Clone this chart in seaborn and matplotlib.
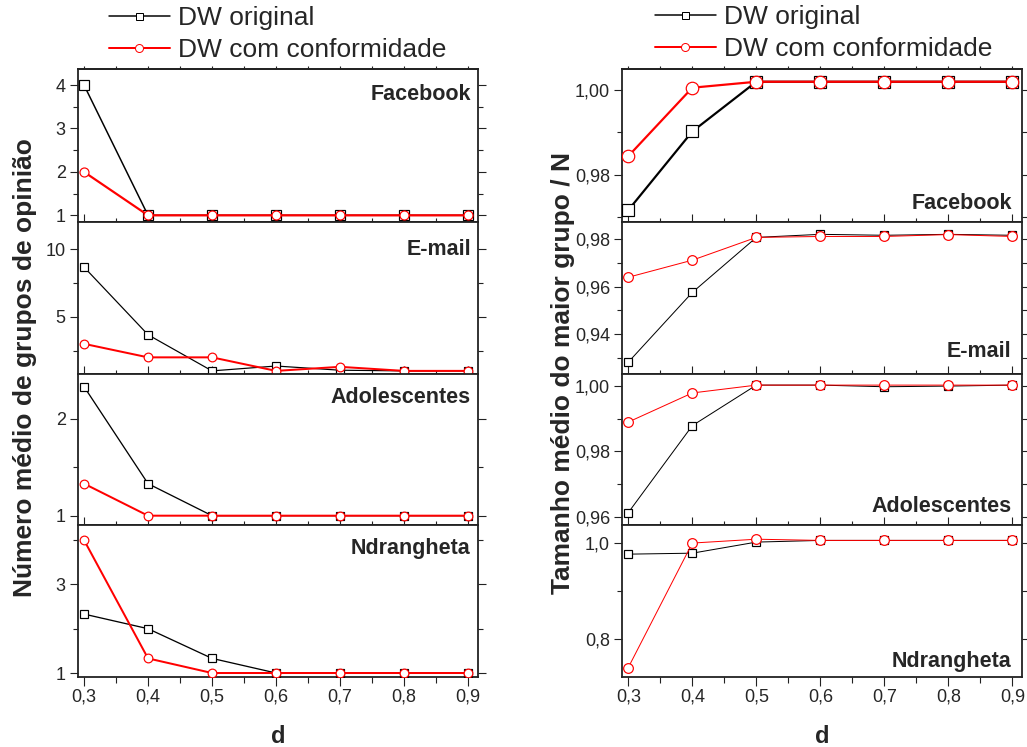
import matplotlib
matplotlib.use("Agg")
import matplotlib.pyplot as plt
from matplotlib.ticker import FixedLocator, FuncFormatter
from matplotlib.lines import Line2D
import seaborn as sns

# ---------------- data ----------------
d_values = [0.3, 0.4, 0.5, 0.6, 0.7, 0.8, 0.9]
d_minor = [0.35, 0.45, 0.55, 0.65, 0.75, 0.85]
networks = ["Facebook", "E-mail", "Adolescentes", "Ndrangheta"]
series_labels = ["DW original", "DW com conformidade"]

# left column: average number of opinion groups
groups_fb_orig = [4.0, 1.0, 1.0, 1.0, 1.0, 1.0, 1.0]
groups_fb_conf = [2.0, 1.0, 1.0, 1.0, 1.0, 1.0, 1.0]
groups_em_orig = [8.67, 3.67, 1.0, 1.36, 1.05, 1.0, 1.0]
groups_em_conf = [3.0, 2.0, 2.0, 1.0, 1.3, 1.0, 1.0]
groups_ad_orig = [2.33, 1.33, 1.0, 1.0, 1.0, 1.0, 1.0]
groups_ad_conf = [1.33, 1.0, 1.0, 1.0, 1.0, 1.0, 1.0]
groups_nd_orig = [2.33, 2.0, 1.33, 1.0, 1.0, 1.0, 1.0]
groups_nd_conf = [4.0, 1.33, 1.0, 1.0, 1.0, 1.0, 1.0]

# right column: average size of the largest group / N
size_fb_orig = [0.9717, 0.9902, 1.0019, 1.0019, 1.0019, 1.0019, 1.0019]
size_fb_conf = [0.9844, 1.0005, 1.0019, 1.0019, 1.0019, 1.0019, 1.0019]
size_em_orig = [0.9282, 0.9576, 0.9808, 0.9821, 0.9817, 0.9821, 0.9817]
size_em_conf = [0.9640, 0.9712, 0.9808, 0.9812, 0.9812, 0.9820, 0.9812]
size_ad_orig = [0.9613, 0.9879, 1.0003, 1.0003, 0.9998, 1.0000, 1.0003]
size_ad_conf = [0.9890, 0.9979, 1.0003, 1.0003, 1.0003, 1.0003, 1.0003]
size_nd_orig = [0.977, 0.979, 1.002, 1.0055, 1.0055, 1.0055, 1.0055]
size_nd_conf = [0.7417, 1.000, 1.008, 1.0055, 1.0055, 1.0055, 1.0055]

# tick values per panel (major, minor) and decimals
left_major = [[1, 2, 3, 4], [5, 10], [1, 2], [1, 3]]
left_minor = [[1.5, 2.5, 3.5], [2.5, 7.5], [1.5], [2, 4]]
left_ylim = [(0.846, 4.37), (0.77, 12.0), (0.904, 2.46), (0.91, 4.34)]
right_major = [[0.98, 1.00], [0.94, 0.96, 0.98], [0.96, 0.98, 1.00], [0.8, 1.0]]
right_minor = [[0.97, 0.99], [0.93, 0.95, 0.97], [0.97, 0.99], [0.9]]
right_decimals = [2, 2, 2, 1]
right_ylim = [(0.9689, 1.0049), (0.9232, 0.9873), (0.9575, 1.0037), (0.722, 1.0375)]

# ---------------- style ----------------
sns.set_style("ticks")
plt.rcParams["font.family"] = ["Liberation Sans", "DejaVu Sans"]
plt.rcParams["axes.linewidth"] = 1.3

PX = 0.72  # points per pixel at dpi 100
BLACK = "#000000"
RED = "#ff0000"
SPINE = "#222222"

fig = plt.figure(figsize=(10.27, 7.47), dpi=100)
H = 747.0
W = 1027.0
bounds_px = [69, 222, 374, 525, 677]
left_x = (78, 478)
right_x = (622.3, 1022.3)

left_sets = [(groups_fb_orig, groups_fb_conf), (groups_em_orig, groups_em_conf),
             (groups_ad_orig, groups_ad_conf), (groups_nd_orig, groups_nd_conf)]
right_sets = [(size_fb_orig, size_fb_conf), (size_em_orig, size_em_conf),
              (size_ad_orig, size_ad_conf), (size_nd_orig, size_nd_conf)]

# styles (line widths px, marker sizes px)
left_style = [(1.5, 2.2, 10.7, 9.0), (1.2, 2.0, 7.5, 8.7), (1.3, 2.0, 8.3, 8.7), (1.3, 2.0, 8.3, 8.7)]
right_style = [(2.2, 2.2, 11.5, 12.5), (1.0, 1.0, 7.7, 9.7), (1.0, 1.0, 8.0, 9.7), (1.0, 1.0, 8.0, 9.7)]
left_title_pos = [0.80, 0.785, 0.805, 0.81]
right_title_pos = [0.083, 0.114, 0.086, 0.066]


def draw_panel(ax, orig, conf, style):
    lw_o, lw_c, ms_s, ms_c = style
    sns.lineplot(x=d_values, y=orig, ax=ax, color=BLACK, linewidth=lw_o * PX,
                 marker="s", markersize=ms_s * PX, markerfacecolor="white",
                 markeredgecolor=BLACK, markeredgewidth=1.2 * PX, legend=False, zorder=3)
    sns.lineplot(x=d_values, y=conf, ax=ax, color=RED, linewidth=lw_c * PX,
                 marker="o", markersize=ms_c * PX, markerfacecolor="white",
                 markeredgecolor=RED, markeredgewidth=1.2 * PX, legend=False, zorder=4)


def style_axes(ax, i, major, minor, ylim, fmt):
    ax.set_xlim(0.2906, 0.9156)
    ax.set_ylim(*ylim)
    ax.xaxis.set_major_locator(FixedLocator(d_values))
    ax.xaxis.set_minor_locator(FixedLocator(d_minor))
    ax.yaxis.set_major_locator(FixedLocator(major))
    ax.yaxis.set_minor_locator(FixedLocator(minor))
    ax.yaxis.set_major_formatter(FuncFormatter(fmt))
    ax.xaxis.set_major_formatter(FuncFormatter(lambda v, p: f"{v:.1f}".replace(".", ",")))
    for s in ax.spines.values():
        s.set_visible(True)
        s.set_linewidth(1.3)
        s.set_color(SPINE)
    last = (i == 3)
    ax.tick_params(axis="x", which="both", bottom=True, top=False,
                   labelbottom=last, labeltop=False,
                   direction="out" if last else "in", width=0.8, color=SPINE,
                   labelsize=13, pad=2)
    ax.tick_params(axis="x", which="major", length=6.5 if last else 6)
    ax.tick_params(axis="x", which="minor", length=4.3 if last else 3)
    ax.tick_params(axis="y", which="both", left=True, right=True, labelleft=True,
                   labelright=False, direction="out", width=0.8, color=SPINE,
                   labelsize=13, pad=3)
    ax.tick_params(axis="y", which="major", length=5.8)
    ax.tick_params(axis="y", which="minor", length=3.6)
    ax.set_xlabel("")
    ax.set_ylabel("")
    if i == 0:
        # short outward ticks on the top spine of the top panel
        sec = ax.secondary_xaxis("top")
        sec.xaxis.set_major_locator(FixedLocator(d_values + d_minor))
        sec.tick_params(axis="x", which="major", direction="out", length=2.5,
                        width=0.8, labeltop=False, color=SPINE)
        sec.spines["top"].set_linewidth(1.3)
        sec.spines["top"].set_color(SPINE)


for col, (xs, sets, styles) in enumerate([(left_x, left_sets, left_style),
                                           (right_x, right_sets, right_style)]):
    for i in range(4):
        top = bounds_px[i]
        bot = bounds_px[i + 1]
        ax = fig.add_axes([xs[0] / W, 1 - bot / H, (xs[1] - xs[0]) / W, (bot - top) / H])
        orig, conf = sets[i]
        draw_panel(ax, orig, conf, styles[i])
        if col == 0:
            fmt = lambda v, p: f"{v:g}"
            style_axes(ax, i, left_major[i], left_minor[i], left_ylim[i], fmt)
            ax.text(0.982, left_title_pos[i], networks[i], transform=ax.transAxes,
                    ha="right", va="baseline", fontsize=15.5, fontweight="bold")
        else:
            dec = right_decimals[i]
            fmt = (lambda dd: (lambda v, p: f"{v:.{dd}f}".replace(".", ",")))(dec)
            style_axes(ax, i, right_major[i], right_minor[i], right_ylim[i], fmt)
            ax.text(0.9735, right_title_pos[i], networks[i], transform=ax.transAxes,
                    ha="right", va="baseline", fontsize=15.5, fontweight="bold")

# axis labels
fig.text(25 / W, 1 - 368 / H, "Número médio de grupos de opinião", rotation=90,
         ha="center", va="center", fontsize=19, fontweight="bold")
fig.text(563 / W, 1 - 373 / H, "Tamanho médio do maior grupo / N", rotation=90,
         ha="center", va="center", fontsize=19, fontweight="bold")
fig.text(278 / W, 1 - 743 / H, "d", ha="center", va="baseline", fontsize=17, fontweight="bold")
fig.text(822.3 / W, 1 - 743 / H, "d", ha="center", va="baseline", fontsize=17, fontweight="bold")

# legends
handles = [
    Line2D([], [], color=BLACK, linewidth=1.5 * PX, marker="s", markersize=7 * PX,
           markerfacecolor="white", markeredgecolor=BLACK, markeredgewidth=1.0 * PX),
    Line2D([], [], color=RED, linewidth=2.0 * PX, marker="o", markersize=8 * PX,
           markerfacecolor="white", markeredgecolor=RED, markeredgewidth=1.0 * PX),
]
for x0, ytop in ((109 / W, 1 - 6 / H), (655 / W, 1 - 5 / H)):
    fig.legend(handles, series_labels, loc="upper left", bbox_to_anchor=(x0, ytop),
               frameon=False, fontsize=19, handlelength=2.3, handletextpad=0.3,
               labelspacing=0.3, borderpad=0, borderaxespad=0)

fig.savefig("out.png", dpi=100)
